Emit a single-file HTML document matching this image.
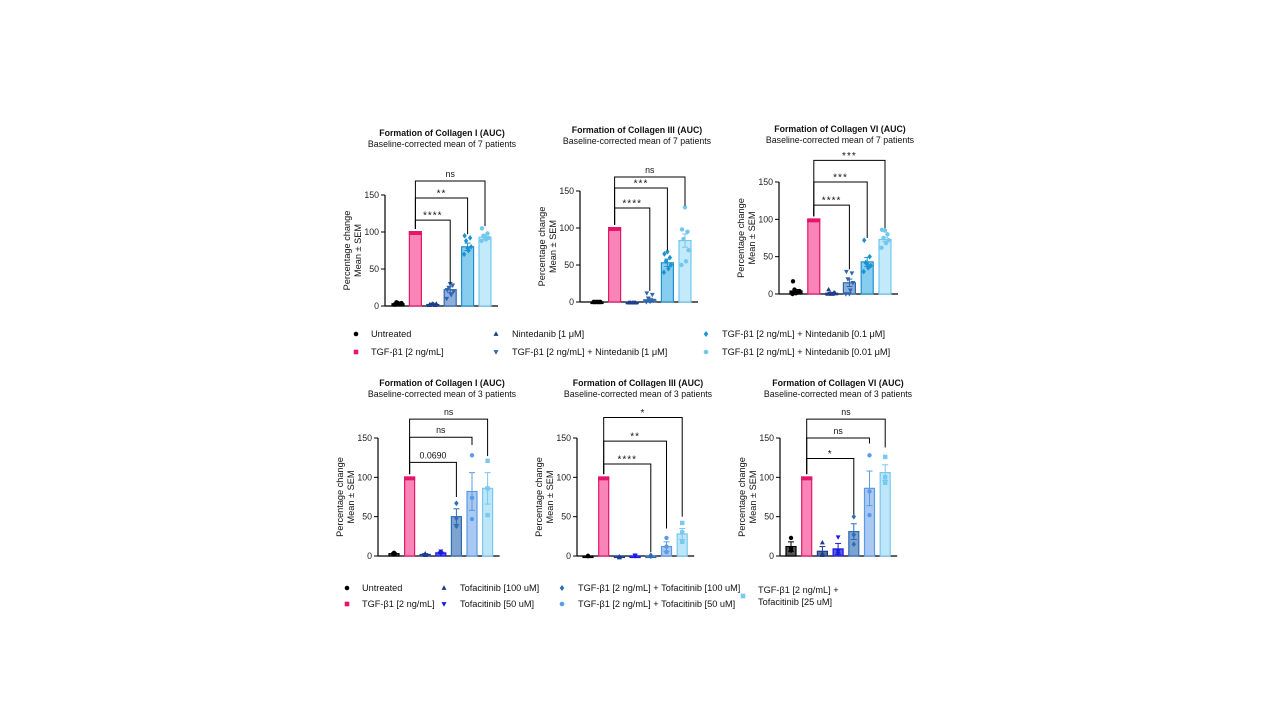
<!DOCTYPE html>
<html><head><meta charset="utf-8">
<style>
html,body{margin:0;padding:0;background:#fff;}
svg{display:block;font-family:"Liberation Sans",sans-serif;}
</style></head>
<body>
<svg id="fig" width="1280" height="720" viewBox="0 0 1280 720" xmlns="http://www.w3.org/2000/svg"></svg>
<script>
// ---- data ----
const topCategories = ["Untreated","TGF-β1 [2 ng/mL]","Nintedanib [1 μM]","TGF-β1 [2 ng/mL] + Nintedanib [1 μM]","TGF-β1 [2 ng/mL] + Nintedanib [0.1 μM]","TGF-β1 [2 ng/mL] + Nintedanib [0.01 μM]"];
const botCategories = ["Untreated","TGF-β1 [2 ng/mL]","Tofacitinib [100 uM]","Tofacitinib [50 uM]","TGF-β1 [2 ng/mL] + Tofacitinib [100 uM]","TGF-β1 [2 ng/mL] + Tofacitinib [50 uM]","TGF-β1 [2 ng/mL] + Tofacitinib [25 uM]"];
const yTicks = [0,50,100,150];

const c1Means = [3,100,2,22,80,93];
const c1Sem = [1,0,1,4,5,3];
const c1Points = [[2,3,4,5,3,2,4],[100],[1,2,3,2,1,2,3],[10,15,20,25,28,22,30],[70,75,80,88,92,95,78],[88,90,92,95,98,105,93]];
const c1Brackets = [[3,116,30,"****"],[4,146,97,"**"],[5,169,108,"ns"]];

const c2Means = [0,100,-1,3,53,83];
const c2Sem = [0,0,0,2,5,9];
const c2Points = [[0,0,0,0,0,0,0],[100],[-1,-1,-1,-1,-1,-1,-1],[0,1,2,5,10,12,1],[40,45,50,55,60,65,68],[50,55,70,85,95,98,128]];
const c2Brackets = [[3,127,15,"****"],[4,154,70,"***"],[5,169,130,"ns"]];

const c3Means = [4,100,1,15,43,73];
const c3Sem = [2,0,1,5,6,3];
const c3Points = [[0,2,4,6,3,17,1],[100],[0,0,1,1,2,6,0],[0,5,15,20,28,30,0],[30,35,38,42,50,72,40],[62,68,72,75,80,86,85]];
const c3Brackets = [[3,119,33,"****"],[4,150,75,"***"],[5,179,88,"***"]];

const c4Means = [3,100,2,4,50,82,86];
const c4Sem = [1,0,1,1,10,24,20];
const c4Points = [[2,3,4],[100],[1,2,3],[3,4,6],[38,48,67],[47,74,128],[52,86,121]];
const c4Brackets = [[4,119,75,"0.0690"],[5,151,141,"ns"],[6,174,127,"ns"]];

const c5Means = [0,100,-1,0,0,12,28];
const c5Sem = [0,0,0,0,0,6,7];
const c5Points = [[0,0,0],[100],[-1,-2,-1],[1,1,0],[0,1,0],[5,12,23],[18,30,42]];
const c5Brackets = [[4,117,5,"****"],[5,146,35,"**"],[6,176,50,"*"]];

const c6Means = [12,100,6,9,31,86,106];
const c6Sem = [6,0,6,7,10,22,10];
const c6Points = [[7,10,23],[100],[1,3,17],[3,6,24],[15,27,50],[52,82,128],[93,100,126]];
const c6Brackets = [[4,124,53,"*"],[5,150,143,"ns"],[6,174,138,"ns"]];

// ---- styles ----
const topStyle = [
 {fill:"#111",stroke:"#000",mk:"circle",mc:"#000"},
 {fill:"#f884b8",stroke:"#e3176a",mk:"square",mc:"#e3176a"},
 {fill:"#1f3f8a",stroke:"#1f3f8a",mk:"tri",mc:"#1f3f8a"},
 {fill:"#8eaedb",stroke:"#2f66ad",mk:"tridown",mc:"#2f66ad"},
 {fill:"#86cdf0",stroke:"#1e92cf",mk:"diamond",mc:"#1e92cf"},
 {fill:"#c3eafb",stroke:"#72c7ee",mk:"circle",mc:"#72c7ee"}];
const botStyle = [
 {fill:"#555",stroke:"#000",mk:"circle",mc:"#000"},
 {fill:"#f884b8",stroke:"#e3176a",mk:"square",mc:"#e3176a"},
 {fill:"#5d6f95",stroke:"#1a3d8f",mk:"tri",mc:"#1a3d8f"},
 {fill:"#5a5ae8",stroke:"#1a1ae0",mk:"tridown",mc:"#1a1ae0"},
 {fill:"#7fa3d1",stroke:"#2e6db5",mk:"diamond",mc:"#2e6db5"},
 {fill:"#a9c8f2",stroke:"#5b9be6",mk:"circle",mc:"#5b9be6"},
 {fill:"#bde6f8",stroke:"#78c8f0",mk:"square",mc:"#78c8f0"}];
const jitter7 = [-3.5,1,3.5,-1.5,2.5,-3,0];

const NS="http://www.w3.org/2000/svg";
const svg=document.getElementById('fig');
function el(tag,attrs,parent,text){const e=document.createElementNS(NS,tag);for(const k in attrs)e.setAttribute(k,attrs[k]);if(text!==undefined)e.textContent=text;(parent||svg).appendChild(e);return e;}
function marker(g,type,x,y,c,s){
 let e;
 if(type==="circle"){e=el('circle',{cx:x,cy:y,r:s},g);}
 else if(type==="square"){e=el('rect',{x:x-s,y:y-s,width:2*s,height:2*s},g);}
 else if(type==="tri"){e=el('polygon',{points:`${x},${y-s*1.2} ${x-s*1.1},${y+s*0.8} ${x+s*1.1},${y+s*0.8}`},g);}
 else if(type==="tridown"){e=el('polygon',{points:`${x},${y+s*1.2} ${x-s*1.1},${y-s*0.8} ${x+s*1.1},${y-s*0.8}`},g);}
 else {e=el('polygon',{points:`${x},${y-s*1.3} ${x-s},${y} ${x},${y+s*1.3} ${x+s},${y}`},g);}
 e.setAttribute('fill',c);
 return e;
}

function chart(o){
 const g=el('g',{},svg);
 
 
 const ppu=(o.y0-o.y150)/150;
 const yS=v=>o.y0-v*ppu;
 const xS=i=>o.bx0+i*o.step;
 const t1=el('text',{x:o.tc,y:o.ty,'text-anchor':'middle','font-size':8.8,'font-weight':'bold',fill:'#111'},g,o.title);
 
 const t2=el('text',{x:o.tc,y:o.ty+11,'text-anchor':'middle','font-size':8.8,fill:'#111'},g,o.subtitle);
 
 const yt=el('text',{transform:`translate(${o.ax-35},${(o.y0+o.y150)/2}) rotate(-90)`,'text-anchor':'middle','font-size':9.2,fill:'#111'},g);
 
 el('tspan',{x:0,dy:0},yt,"Percentage change");
 el('tspan',{x:0,dy:11},yt,"Mean ± SEM");
 const ya=el('line',{x1:o.ax,y1:o.y150,x2:o.ax,y2:o.y0,stroke:'#000','stroke-width':1.2},g);
 
 const n=o.means.length;
 const xa=el('line',{x1:o.ax,y1:o.y0,x2:xS(n-1)+o.bw/2+7,y2:o.y0,stroke:'#000','stroke-width':1.2},g);
 
 yTicks.forEach(t=>{
  el('line',{x1:o.ax-4,y1:yS(t),x2:o.ax,y2:yS(t),stroke:'#000','stroke-width':1},g);
  const tl=el('text',{x:o.ax-6,y:yS(t)+3,'text-anchor':'end','font-size':8.8,fill:'#222'},g,String(t));
  
 });
 o.means.forEach((m,i)=>{
  const st=o.styles[i];const x=xS(i);
  const top=yS(Math.max(m,0)),bot=yS(Math.min(m,0));
  const b=el('rect',{x:x-o.bw/2,y:top,width:o.bw,height:Math.max(bot-top,1.5),fill:st.fill,stroke:st.stroke,'stroke-width':1.2},g);
  
  if(i===1){el('rect',{x:x-o.bw/2-0.6,y:top-1,width:o.bw+1.2,height:4,fill:st.stroke},g);}
  const s=o.sem[i];
  if(s>0){
   el('line',{x1:x,y1:yS(m-s),x2:x,y2:yS(m+s),stroke:st.stroke,'stroke-width':1},g);
   el('line',{x1:x-3,y1:yS(m+s),x2:x+3,y2:yS(m+s),stroke:st.stroke,'stroke-width':1},g);
   el('line',{x1:x-3,y1:yS(m-s),x2:x+3,y2:yS(m-s),stroke:st.stroke,'stroke-width':1},g);
  }
  const pts=o.points[i];
  if(i!==1) pts.forEach((p,j)=>{
   const off=pts.length>3?jitter7[j%7]:0;
   const mk=marker(g,st.mk,x+off,yS(p),st.mc,2.2);
   
   
  });
 });
 const lx=xS(1);
 o.brackets.forEach(b=>{
  const [ti,lvl,drop,lab]=b;const rx=xS(ti);
  const p=el('polyline',{points:`${lx},${yS(o.leftDrop)} ${lx},${yS(lvl)} ${rx},${yS(lvl)} ${rx},${yS(drop)}`,fill:'none',stroke:'#000','stroke-width':1},g);
  
  const star=lab.indexOf('*')>=0;
  const tx=el('text',{x:(lx+rx)/2,y:yS(lvl)-(star?1.5:4),'text-anchor':'middle','font-size':star?10:8.8,'letter-spacing':star?1:0,fill:'#111'},g,lab);
  
 });
}

chart({name:'chart-collagen-i-nintedanib',title:'Formation of Collagen I (AUC)',subtitle:'Baseline-corrected mean of 7 patients',tc:442,ty:136,ax:385,y0:306,y150:195,bx0:398,step:17.4,bw:12,means:c1Means,sem:c1Sem,points:c1Points,brackets:c1Brackets,styles:topStyle,leftDrop:104});
chart({name:'chart-collagen-iii-nintedanib',title:'Formation of Collagen III (AUC)',subtitle:'Baseline-corrected mean of 7 patients',tc:637,ty:133,ax:580,y0:302,y150:191,bx0:597,step:17.6,bw:12,means:c2Means,sem:c2Sem,points:c2Points,brackets:c2Brackets,styles:topStyle,leftDrop:104});
chart({name:'chart-collagen-vi-nintedanib',title:'Formation of Collagen VI (AUC)',subtitle:'Baseline-corrected mean of 7 patients',tc:840,ty:132,ax:779,y0:294,y150:182,bx0:796,step:17.8,bw:12,means:c3Means,sem:c3Sem,points:c3Points,brackets:c3Brackets,styles:topStyle,leftDrop:104});
chart({name:'chart-collagen-i-tofacitinib',title:'Formation of Collagen I (AUC)',subtitle:'Baseline-corrected mean of 3 patients',tc:442,ty:386,ax:378,y0:556,y150:438,bx0:394,step:15.6,bw:10,means:c4Means,sem:c4Sem,points:c4Points,brackets:c4Brackets,styles:botStyle,leftDrop:104});
chart({name:'chart-collagen-iii-tofacitinib',title:'Formation of Collagen III (AUC)',subtitle:'Baseline-corrected mean of 3 patients',tc:638,ty:386,ax:577,y0:556,y150:438,bx0:588,step:15.7,bw:10,means:c5Means,sem:c5Sem,points:c5Points,brackets:c5Brackets,styles:botStyle,leftDrop:104});
chart({name:'chart-collagen-vi-tofacitinib',title:'Formation of Collagen VI (AUC)',subtitle:'Baseline-corrected mean of 3 patients',tc:838,ty:386,ax:780,y0:556,y150:438,bx0:791,step:15.7,bw:10,means:c6Means,sem:c6Sem,points:c6Points,brackets:c6Brackets,styles:botStyle,leftDrop:104});

function legend(name,items){
 const g=el('g',{},svg);
 
 
 items.forEach(it=>{
  const e=el('g',{},g);
  
  
  marker(e,it.st.mk,it.mx,it.y,it.st.mc,2.3);
  const t=el('text',{x:it.tx,y:it.y+3.2,'font-size':9.2,fill:'#111'},e);
  it.lines.forEach((l,k)=>el('tspan',{x:it.tx,dy:k?12:(it.lines.length>1?-6:0)},t,l));
 });
}
legend('legend-nintedanib',[
 {st:topStyle[0],mx:356,tx:371,y:334,lines:[topCategories[0]]},
 {st:topStyle[1],mx:356,tx:371,y:352,lines:[topCategories[1]]},
 {st:topStyle[2],mx:496,tx:512,y:334,lines:[topCategories[2]]},
 {st:topStyle[3],mx:496,tx:512,y:352,lines:[topCategories[3]]},
 {st:topStyle[4],mx:706,tx:722,y:334,lines:[topCategories[4]]},
 {st:topStyle[5],mx:706,tx:722,y:352,lines:[topCategories[5]]}]);
legend('legend-tofacitinib',[
 {st:botStyle[0],mx:347,tx:362,y:588,lines:[botCategories[0]]},
 {st:botStyle[1],mx:347,tx:362,y:604,lines:[botCategories[1]]},
 {st:botStyle[2],mx:444,tx:460,y:588,lines:[botCategories[2]]},
 {st:botStyle[3],mx:444,tx:460,y:604,lines:[botCategories[3]]},
 {st:botStyle[4],mx:562,tx:578,y:588,lines:[botCategories[4]]},
 {st:botStyle[5],mx:562,tx:578,y:604,lines:[botCategories[5]]},
 {st:botStyle[6],mx:743,tx:758,y:596,lines:["TGF-β1 [2 ng/mL] +","Tofacitinib [25 uM]"]}]);
</script>
</body></html>
